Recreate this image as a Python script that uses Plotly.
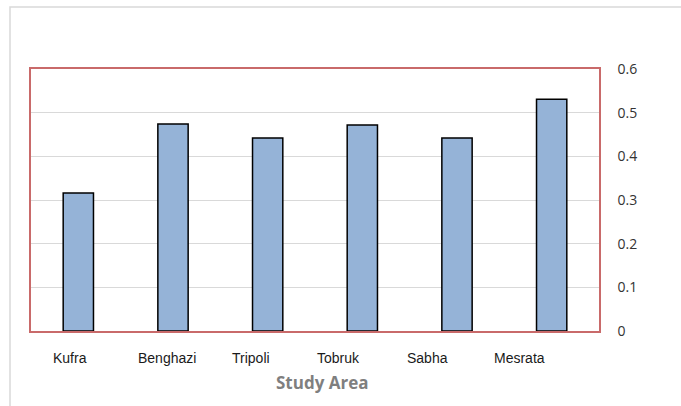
import plotly.graph_objects as go

categories = ["Kufra", "Benghazi", "Tripoli", "Tobruk", "Sabha", "Mesrata"]
values = [0.316, 0.474, 0.442, 0.472, 0.442, 0.531]
y_ticks = [0, 0.1, 0.2, 0.3, 0.4, 0.5, 0.6]
y_tick_text = ["0", "0.1", "0.2", "0.3", "0.4", "0.5", "0.6"]
x_title = "Study Area"

# label horizontal offsets (px) relative to bar centres, as in the reference
label_shift = [-8, -6, -17, -24, -30, -32]

L, R, T, B = 31, 82, 69, 75
W, H = 681, 406

fig = go.Figure()
fig.add_trace(go.Bar(
    x=list(range(len(categories))), y=values,
    width=0.32,
    marker=dict(color="#95b3d7", line=dict(color="#000000", width=1.5)),
))

for i, c in enumerate(categories):
    fig.add_annotation(x=i, y=0, xref="x", yref="paper", text=c, showarrow=False,
                       xshift=label_shift[i], yshift=-27, yanchor="middle",
                       font=dict(family="Liberation Sans, Arial", size=14, color="#1a1a1a"))

fig.add_annotation(x=(322 - L) / (W - L - R), y=0, xref="paper", yref="paper", text="<b>" + x_title + "</b>",
                   showarrow=False, yshift=-51, yanchor="middle",
                   font=dict(family="Open Sans, Liberation Sans", size=17, color="#7f7f7f"))

pw = W - L - R
ph = H - T - B
fig.add_shape(type="rect", xref="paper", yref="paper",
              x0=(10 - L) / pw, x1=1 + (W + 20 - (W - R)) / pw,
              y0=-(B + 20) / ph, y1=1 + (T - 7) / ph,
              line=dict(color="#d9d9d9", width=1.5), fillcolor="rgba(0,0,0,0)", layer="below")

fig.update_layout(
    width=W, height=H,
    margin=dict(l=L, r=R, t=T, b=B),
    paper_bgcolor="white", plot_bgcolor="white",
    showlegend=False,
    xaxis=dict(range=[-0.5, len(categories) - 0.5], showticklabels=False, ticks="",
               showgrid=False, zeroline=False, showline=True, linecolor="#c96a6a",
               linewidth=1.5, mirror=True, fixedrange=True),
    yaxis=dict(range=[0, 0.6], side="right", tickvals=y_ticks, ticktext=y_tick_text,
               showgrid=True, gridcolor="#d9d9d9", gridwidth=1, zeroline=False,
               showline=True, linecolor="#c96a6a", linewidth=1.5, mirror=True,
               ticks="", ticklabelstandoff=14,
               tickfont=dict(family="Open Sans, Liberation Sans", size=14, color="#333333")),
)

fig.write_html("out.html")
